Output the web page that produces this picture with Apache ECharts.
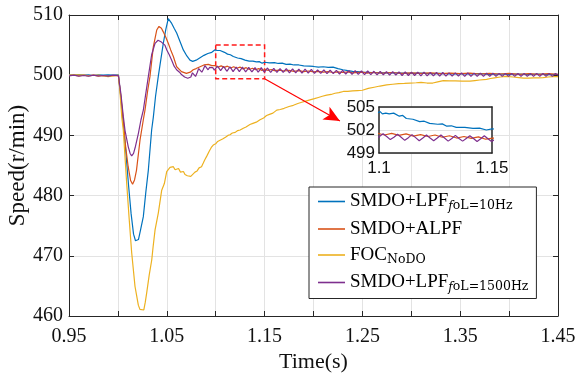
<!DOCTYPE html>
<html>
<head>
<meta charset="utf-8">
<script src="https://cdn.jsdelivr.net/npm/echarts@6/dist/echarts.min.js"></script>
<style>html,body{margin:0;padding:0;background:#fff;}#c{width:575px;height:378px;}</style>
</head>
<body>
<div id="c"></div>
<script>
const seriesNames = ['SMDO+LPF foL=10Hz', 'SMDO+ALPF', 'FOC NoDO', 'SMDO+LPF foL=1500Hz'];
const xLabelTicks = [0.95, 1.05, 1.15, 1.25, 1.35, 1.45];
const zoomBox = [[1.1, 505], [1.15, 499.4]];
const arrowEnd = [1.227, 492.4];

const blueData = [[0.95,500.05],[0.955,500.0],[0.96,500.1],[0.965,500.0],[0.97,500.05],[0.975,499.95],[0.98,500.05],[0.985,500.0],[0.99,500.05],[0.995,500.0],[1.0005,500.05],
[1.003,496.3],[1.0055,492.0],[1.008,487.5],[1.011,481.5],[1.0135,477.0],[1.016,473.6],[1.018,472.5],[1.0195,472.3],[1.021,472.7],[1.023,474.2],[1.026,476.5],[1.0285,480.5],[1.0311,484.2],[1.0345,490.9],[1.0362,493.0],[1.0385,496.5],[1.0413,499.8],[1.0464,505.3],[1.049,507.6],[1.0515,509.4],[1.053,509.2],[1.055,508.6],[1.0575,507.8],[1.0601,507.0],[1.0635,505.6],[1.0669,504.2],[1.0705,503.2],[1.0737,502.5],[1.0765,502.3],[1.08,502.5],[1.084,502.9],[1.088,503.3],[1.092,503.6],[1.096,503.8],[1.099,504.2],[1.1005,504.4],[1.1015,504.1],[1.103,504.2],[1.1045,504.1],[1.1065,504.2],[1.109,503.8],[1.1105,503.9],[1.1121,503.5],[1.115,503.4],[1.118,503.1],[1.12,503.15],[1.1224,502.86],[1.126,502.75],[1.128,502.8],[1.13,502.5],[1.132,502.55],[1.1342,502.35],[1.138,502.35],[1.1416,502.2],[1.1445,502.25],[1.1475,502.0],[1.15,502.15],[1.155,502.05],[1.16,502.1],[1.164,501.95],[1.168,502.0],[1.172,501.8],[1.176,501.85],[1.18,501.7],[1.185,501.7],[1.19,501.55],[1.196,501.5],[1.20,501.45],[1.205,501.35],[1.21,501.4],[1.215,501.3],[1.22,501.35],[1.225,501.1],[1.23,500.9],[1.235,500.75],[1.24,500.65],[1.245,500.6],[1.25,500.5],[1.26,500.45],[1.27,500.4],[1.28,500.4],[1.29,500.35],[1.30,500.3],[1.31,500.35],[1.32,500.25],[1.33,500.3],[1.34,500.2],[1.35,500.25],[1.36,500.2],[1.37,500.25],[1.38,500.15],[1.39,500.2],[1.40,500.15],[1.41,500.2],[1.42,500.1],[1.43,500.2],[1.44,500.1],[1.45,500.15]];

const orangeData = [[0.95,499.95],[0.955,500.0],[0.96,499.9],[0.965,500.0],[0.97,499.9],[0.975,500.0],[0.98,499.85],[0.985,499.95],[0.99,499.8],[0.995,499.95],[1.0005,499.9],
[1.003,496.5],[1.0055,492.5],[1.008,488.0],[1.0105,484.8],[1.013,482.5],[1.015,481.9],[1.017,482.6],[1.019,484.2],[1.0226,489.2],[1.026,492.6],[1.0277,494.2],[1.0305,497.5],[1.0328,499.8],[1.0362,504.7],[1.0397,507.5],[1.042,508.1],[1.0445,507.8],[1.0464,507.2],[1.049,506.3],[1.0515,505.3],[1.054,504.2],[1.0567,503.1],[1.0601,501.4],[1.065,500.6],[1.070,500.3],[1.074,500.5],[1.077,500.9],[1.080,501.1],[1.084,501.4],[1.088,501.7],[1.0925,501.8],[1.096,501.6],
[1.0992,501.6],[1.1024,501.35],[1.1056,501.55],[1.1088,501.3],[1.112,501.5],[1.1152,501.2],[1.1184,501.4],[1.1216,501.15],[1.1248,501.35],[1.128,501.05],[1.1312,501.25],[1.1344,500.95],[1.1376,501.15],[1.1408,500.9],[1.144,501.1],[1.1472,500.8],[1.1504,500.95],[1.1536,500.8],[1.1568,500.95],[1.16,500.75],
[1.165,500.85],[1.17,500.7],[1.175,500.8],[1.18,500.65],[1.185,500.75],[1.19,500.6],[1.195,500.7],[1.2,500.55],[1.205,500.65],[1.21,500.5],[1.215,500.6],[1.22,500.45],[1.225,500.55],[1.23,500.45],[1.235,500.55],[1.24,500.4],[1.25,500.5],[1.255,500.35],[1.26,500.45],[1.27,500.35],[1.28,500.45],[1.29,500.3],[1.30,500.4],[1.31,500.3],[1.32,500.4],[1.33,500.25],[1.34,500.35],[1.35,500.25],[1.36,500.35],[1.37,500.2],[1.38,500.3],[1.39,500.2],[1.40,500.3],[1.41,500.15],[1.42,500.25],[1.43,500.15],[1.44,500.25],[1.45,500.15]];

const yellowData = [[0.95,500.0],[0.96,500.05],[0.97,499.95],[0.98,500.0],[0.985,499.9],[0.99,499.75],[0.995,499.9],[1.0005,500.0],
[1.002,497.5],[1.004,493.0],[1.0055,490.9],[1.009,482.0],[1.0115,476.2],[1.0141,470.5],[1.0175,464.9],[1.0209,461.8],[1.0225,461.1],[1.0245,461.4],[1.0265,461.0],[1.028,462.3],[1.0294,463.8],[1.032,466.8],[1.0346,469.3],[1.036,471.5],[1.038,474.3],[1.0413,477.1],[1.0448,480.9],[1.0475,482.0],[1.0499,484.0],[1.0515,484.2],[1.0533,484.7],[1.055,484.4],[1.0567,484.8],[1.0585,484.3],[1.060,484.2],[1.062,484.5],[1.064,483.9],[1.0652,483.8],[1.067,484.0],[1.0686,483.5],[1.071,483.3],[1.0725,483.6],[1.0745,483.2],[1.0765,483.3],[1.0788,483.9],[1.081,484.1],[1.083,484.6],[1.0855,484.8],[1.0873,485.4],[1.089,486.0],[1.091,486.6],[1.0935,487.4],[1.0955,488.0],[1.0975,488.4],[1.1,488.6],[1.102,489.0],[1.1044,489.2],[1.107,489.4],[1.11,489.7],[1.1125,490.0],[1.1146,490.1],[1.117,490.4],[1.12,490.5],[1.1225,490.8],[1.125,490.9],[1.1282,491.2],[1.131,491.4],[1.135,491.8],[1.138,492.0],[1.1415,492.2],[1.1453,492.6],[1.149,492.9],[1.152,493.3],[1.155,493.5],[1.1585,493.7],[1.1624,494.2],[1.166,494.3],[1.17,494.5],[1.175,494.8],[1.1794,495.0],[1.184,495.3],[1.188,495.5],[1.192,495.7],[1.1964,495.9],[1.201,496.1],[1.205,496.3],[1.209,496.5],[1.2135,496.7],[1.218,496.8],[1.222,497.0],[1.226,497.1],[1.2305,497.3],[1.235,497.3],[1.24,497.4],[1.245,497.45],[1.25,497.5],[1.256,497.8],[1.262,498.0],[1.268,498.2],[1.2748,498.4],[1.281,498.5],[1.287,498.6],[1.293,498.65],[1.2987,498.7],[1.305,498.75],[1.31,498.8],[1.316,498.7],[1.322,498.7],[1.327,498.9],[1.3327,499.1],[1.339,499.05],[1.345,499.05],[1.352,499.0],[1.36,499.0],[1.365,499.1],[1.37,499.2],[1.377,499.3],[1.381,499.45],[1.385,499.55],[1.391,499.7],[1.3975,499.8],[1.404,499.7],[1.41,499.6],[1.415,499.5],[1.42,499.5],[1.425,499.55],[1.43,499.55],[1.435,499.6],[1.44,499.7],[1.445,499.75],[1.45,499.75]];

const purpleData = [[0.95,499.9],[0.955,500.0],[0.96,499.85],[0.965,499.95],[0.97,499.85],[0.975,500.0],[0.98,499.9],[0.985,499.95],[0.99,499.85],[0.995,500.0],[1.0005,499.95],
[1.003,497.0],[1.0055,493.2],[1.0073,490.8],[1.0106,488.1],[1.0125,487.0],[1.0141,486.6],[1.016,487.0],[1.018,488.2],[1.0209,490.3],[1.0236,492.6],[1.026,494.2],[1.0311,499.75],[1.0345,503.4],[1.038,505.3],[1.041,505.8],[1.043,505.7],[1.0445,505.5],[1.046,505.4],[1.048,505.0],[1.05,504.2],[1.0525,503.4],[1.055,502.5],[1.0575,501.5],[1.06,500.9],[1.063,500.5],[1.065,500.1],[1.0682,499.7],
[1.0698,499.9],[1.0714,499.5],[1.073,499.2],[1.0746,499.7],[1.0762,500.4],[1.0778,500.1],[1.0794,499.8],[1.081,500.4],[1.0826,501.1],[1.0842,500.8],[1.0858,500.5],[1.0874,501.0],[1.089,501.6],[1.0906,501.3],[1.0922,500.9],[1.0938,501.3],[1.0954,501.6],[1.097,501.25],[1.0986,500.85],[1.1002,501.15],[1.1018,501.5],[1.1034,501.15],[1.105,500.75],[1.1066,501.05],[1.1082,501.45],[1.1098,501.05],[1.1114,500.65],[1.113,501.0],[1.1146,501.4],[1.1162,501.0],[1.1178,500.6],[1.1194,500.95],[1.121,501.35],[1.1226,500.95],[1.1242,500.6],[1.1258,500.95],[1.1274,501.35],[1.129,500.95],[1.1306,500.55],[1.1322,500.9],[1.1338,501.3],[1.1354,500.9],[1.137,500.55],[1.1386,500.9],[1.1402,501.25],[1.1418,500.9],[1.1434,500.5],[1.145,500.85],[1.1466,501.25],[1.1482,500.85],[1.1498,500.5],[1.1514,500.8],[1.153,501.2],[1.1546,500.8],[1.1562,500.45],[1.1578,500.8],[1.1594,501.15],
[1.1626,500.45],[1.1658,501.1],[1.169,500.45],[1.1722,501.1],[1.1754,500.4],[1.1786,501.05],[1.1818,500.4],[1.185,501.0],[1.1882,500.35],[1.1914,501.0],[1.1946,500.35],[1.1978,500.95],[1.201,500.3],[1.2042,500.9],[1.2074,500.3],[1.2106,500.9],[1.2138,500.25],[1.217,500.85],[1.2202,500.25],[1.2234,500.8],[1.2266,500.2],[1.2298,500.8],[1.233,500.2],[1.2362,500.75],[1.2394,500.15],[1.2426,500.75],[1.2458,500.15],[1.249,500.7],[1.2522,500.1],[1.2554,500.7],[1.2586,500.1],[1.2618,500.65],[1.265,500.05],[1.2682,500.65],[1.2714,500.05],[1.2746,500.6],[1.2778,500.0],[1.281,500.6],[1.2842,500.0],[1.2874,500.55],[1.2906,499.95],[1.2938,500.55],[1.297,499.95],[1.3002,500.5],[1.3034,499.95],[1.3066,500.5],[1.3098,499.9],[1.313,500.5],[1.3162,499.9],[1.3194,500.45],[1.3226,499.9],[1.3258,500.45],[1.329,499.85],[1.3322,500.45],[1.3354,499.85],[1.3386,500.4],[1.3418,499.85],[1.345,500.4],[1.3482,499.85],[1.3514,500.4],[1.3546,499.8],[1.3578,500.4],[1.361,499.8],[1.3642,500.35],[1.3674,499.8],[1.3706,500.35],[1.3738,499.8],[1.377,500.35],[1.3802,499.8],[1.3834,500.35],[1.3866,499.8],[1.3898,500.3],[1.393,499.8],[1.3962,500.3],[1.3994,499.8],[1.4026,500.3],[1.4058,499.8],[1.409,500.3],[1.4122,499.8],[1.4154,500.3],[1.4186,499.8],[1.4218,500.3],[1.425,499.8],[1.4282,500.3],[1.4314,499.8],[1.4346,500.3],[1.4378,499.8],[1.441,500.3],[1.4442,499.8],[1.4474,500.3],[1.45,500.0]];

const colors = ['#0072BD', '#D95319', '#EDB120', '#7E2F8E'];
const datasets = [blueData, orangeData, yellowData, purpleData];

const serif = 'Liberation Serif';
const subSerif = 'DejaVu Serif';
const sans = 'Liberation Sans';
const axisCol = '#262626';
const gridCol = '#e3e3e3';

const chart = echarts.init(document.getElementById('c'), null, {renderer: 'canvas'});

function baseX(extra) {
  return Object.assign({
    type: 'value', gridIndex: 0, min: 0.95, max: 1.45, interval: 0.05,
    axisLine: {show: true, onZero: false, lineStyle: {color: axisCol, width: 1}},
    axisTick: {show: true, inside: true, length: 5, lineStyle: {color: axisCol}},
    splitLine: {show: false}
  }, extra);
}
function baseY(extra) {
  return Object.assign({
    type: 'value', gridIndex: 0, min: 460, max: 510, interval: 10,
    axisLine: {show: true, onZero: false, lineStyle: {color: axisCol, width: 1}},
    axisTick: {show: true, inside: true, length: 5, lineStyle: {color: axisCol}},
    splitLine: {show: false}
  }, extra);
}

const mainSeries = datasets.map((d, i) => ({
  name: seriesNames[i], type: 'line', xAxisIndex: 0, yAxisIndex: 0,
  data: d, symbol: 'none', showSymbol: false, animation: false,
  lineStyle: {color: colors[i], width: 1.2}, itemStyle: {color: colors[i]}, z: 2 + i * 0.1
}));
mainSeries[0].markArea = {
  silent: true,
  itemStyle: {color: 'rgba(0,0,0,0)', borderColor: '#ff1a1a', borderWidth: 1.5, borderType: [5, 3]},
  data: [[{coord: zoomBox[0]}, {coord: zoomBox[1]}]]
};
mainSeries[0].markLine = {
  silent: true, animation: false,
  symbol: ['none', 'arrow'], symbolSize: [11, 16],
  label: {show: false},
  lineStyle: {color: '#ff0000', width: 1.2, type: 'solid'},
  data: [[{coord: [zoomBox[1][0], zoomBox[1][1]]}, {coord: arrowEnd}]]
};

const insetSeries = datasets.map((d, i) => ({
  name: seriesNames[i], type: 'line', xAxisIndex: 2, yAxisIndex: 2,
  data: d, symbol: 'none', showSymbol: false, animation: false, clip: true,
  lineStyle: {color: colors[i], width: 1.2}, itemStyle: {color: colors[i]}, z: 6 + i * 0.1
}));

const richStyles = {
  m: {fontFamily: serif, fontSize: 19, color: '#000', lineHeight: 22},
  f: {fontFamily: subSerif, fontSize: 12, fontStyle: 'italic', color: '#000', lineHeight: 10, verticalAlign: 'bottom'},
  s: {fontFamily: subSerif, fontSize: 12.5, color: '#000', lineHeight: 10, verticalAlign: 'bottom'}
};
const legendText = {};
legendText[seriesNames[0]] = '{m|SMDO+LPF}{f|f}{s|oL=10Hz}';
legendText[seriesNames[1]] = '{m|SMDO+ALPF}';
legendText[seriesNames[2]] = '{m|FOC}{s|NoDO}';
legendText[seriesNames[3]] = '{m|SMDO+LPF}{f|f}{s|oL=1500Hz}';

const option = {
  animation: false,
  backgroundColor: '#fff',
  grid: [
    {left: 69, right: 17, top: 15, bottom: 62, show: false, outerBoundsMode: 'none', containLabel: false},
    {left: 379, right: 83, top: 107, bottom: 225, show: true, backgroundColor: '#fff', borderWidth: 0, z: 4, outerBoundsMode: 'none', containLabel: false}
  ],
  xAxis: [
    baseX({
      position: 'bottom',
      splitLine: {show: true, lineStyle: {color: gridCol, width: 1}},
      axisLabel: {show: true, margin: 11, color: '#111', fontFamily: serif, fontSize: 20,
        formatter: v => { const k = Math.round(v * 100); return xLabelTicks.some(t => Math.round(t * 100) === k) ? (k / 100).toFixed(2) : ''; }},
      name: 'Time(s)', nameLocation: 'middle', nameGap: 35, nameMoveOverlap: false,
      nameTextStyle: {fontFamily: serif, fontSize: 22, color: '#111'}
    }),
    baseX({position: 'top', axisLabel: {show: false}}),
    {
      type: 'value', gridIndex: 1, min: 1.1, max: 1.15, interval: 0.05, position: 'bottom', z: 5,
      axisLine: {show: true, onZero: false, lineStyle: {color: axisCol, width: 1.5}},
      axisTick: {show: false},
      splitLine: {show: false},
      axisLabel: {show: true, margin: 7, color: '#111', fontFamily: sans, fontSize: 17, formatter: v => String(Math.round(v * 100) / 100)}
    },
    {
      type: 'value', gridIndex: 1, min: 1.1, max: 1.15, interval: 0.05, position: 'top', z: 5,
      axisLine: {show: true, onZero: false, lineStyle: {color: axisCol, width: 1.5}},
      axisTick: {show: false}, splitLine: {show: false}, axisLabel: {show: false}
    }
  ],
  yAxis: [
    baseY({
      position: 'left',
      splitLine: {show: true, lineStyle: {color: gridCol, width: 1}},
      axisLabel: {show: true, margin: 6, color: '#111', fontFamily: serif, fontSize: 20},
      name: 'Speed(r/min)', nameLocation: 'middle', nameGap: 40, nameMoveOverlap: false,
      nameTextStyle: {fontFamily: serif, fontSize: 23, color: '#111'}
    }),
    baseY({position: 'right', axisLabel: {show: false}}),
    {
      type: 'value', gridIndex: 1, min: 499, max: 505, interval: 3, position: 'left', z: 5,
      axisLine: {show: true, onZero: false, lineStyle: {color: axisCol, width: 1.5}},
      axisTick: {show: false},
      splitLine: {show: true, lineStyle: {color: gridCol, width: 1}},
      axisLabel: {show: true, margin: 4, color: '#111', fontFamily: sans, fontSize: 17}
    },
    {
      type: 'value', gridIndex: 1, min: 499, max: 505, interval: 3, position: 'right', z: 5,
      axisLine: {show: true, onZero: false, lineStyle: {color: axisCol, width: 1.5}},
      axisTick: {show: false}, splitLine: {show: false}, axisLabel: {show: false}
    }
  ],
  legend: {
    data: seriesNames,
    orient: 'vertical', left: 309, top: 187,
    padding: [5, 8, 5, 9], itemGap: 7, itemWidth: 27, itemHeight: 1.6, icon: 'rect',
    borderColor: axisCol, borderWidth: 1, backgroundColor: '#fff',
    selectedMode: false, z: 8,
    textStyle: {rich: richStyles, color: '#000'},
    formatter: name => legendText[name]
  },
  series: mainSeries.concat(insetSeries)
};
chart.setOption(option);
</script>
</body>
</html>
